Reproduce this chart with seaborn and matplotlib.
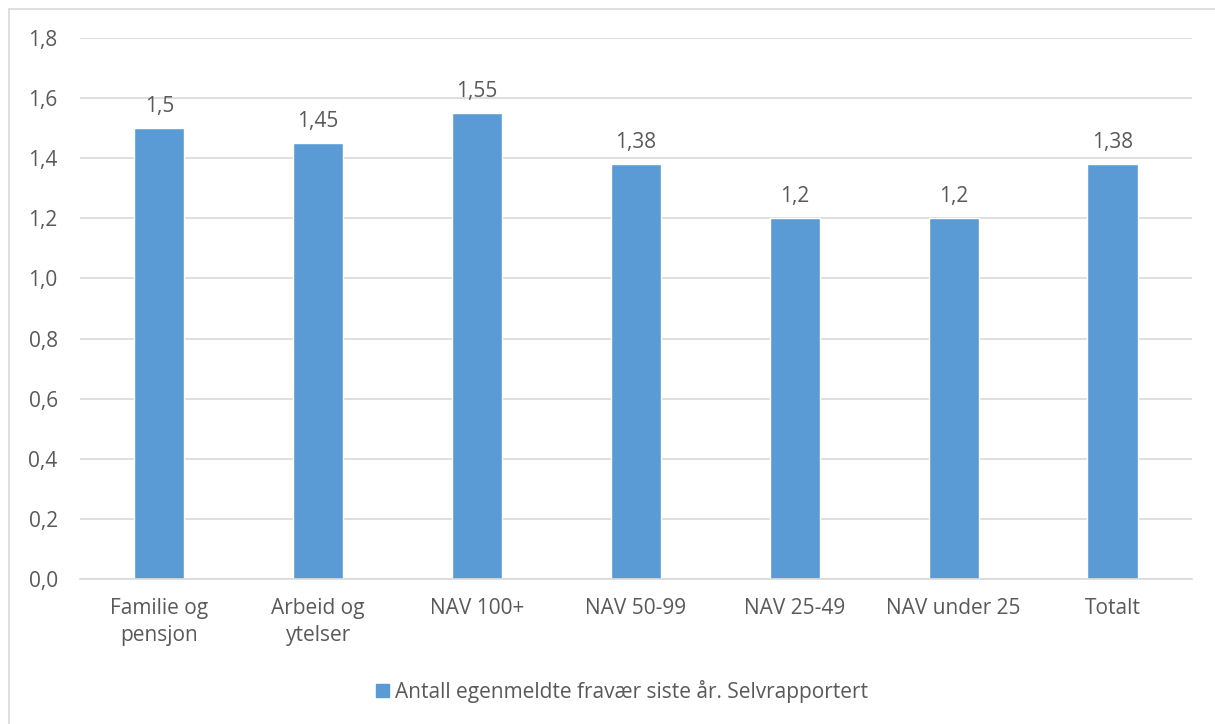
import matplotlib
matplotlib.use("Agg")
import matplotlib.pyplot as plt
import seaborn as sns
import pandas as pd
from matplotlib.patches import Rectangle

categories = ["Familie og\npensjon", "Arbeid og\nytelser", "NAV 100+", "NAV 50-99",
              "NAV 25-49", "NAV under 25", "Totalt"]
values = [1.5, 1.45, 1.55, 1.38, 1.2, 1.2, 1.38]
value_labels = ["1,5", "1,45", "1,55", "1,38", "1,2", "1,2", "1,38"]
y_ticks = [0.0, 0.2, 0.4, 0.6, 0.8, 1.0, 1.2, 1.4, 1.6, 1.8]
y_tick_labels = ["0,0", "0,2", "0,4", "0,6", "0,8", "1,0", "1,2", "1,4", "1,6", "1,8"]
series_name = "Antall egenmeldte fravær siste år. Selvrapportert"

BAR = "#5B9BD5"
TEXT = "#595959"
GRID = "#D9D9D9"
FS = 15

sns.set_theme(style="white")
plt.rcParams["font.family"] = ["Open Sans", "DejaVu Sans"]

df = pd.DataFrame({"kategori": categories, "verdi": values, "serie": series_name})

fig = plt.figure(figsize=(12.15, 7.24), dpi=100)
ax = fig.add_axes([0.0658, 0.2003, 0.9152, 0.7472])

sns.barplot(data=df, x="kategori", y="verdi", hue="serie", palette=[BAR],
            width=0.315, ax=ax, legend=False, saturation=1)

ax.set_ylim(0, 1.8)
ax.set_xlim(-0.5, len(categories) - 0.5)
ax.set_yticks(y_ticks)
ax.set_yticklabels(y_tick_labels)
ax.yaxis.grid(True, color=GRID, linewidth=1.2)
ax.set_axisbelow(True)
for s in ["top", "right", "left"]:
    ax.spines[s].set_visible(False)
ax.spines["bottom"].set_color(GRID)
ax.spines["bottom"].set_linewidth(1.2)
ax.tick_params(axis="both", length=0, labelsize=FS, colors=TEXT)
ax.tick_params(axis="x", pad=14)
ax.tick_params(axis="y", pad=16)
for t in ax.get_xticklabels():
    t.set_linespacing(1.35)
ax.set_xlabel("")
ax.set_ylabel("")

ax.bar_label(ax.containers[0], labels=value_labels, padding=8,
             fontsize=FS, color=TEXT)

# Legend below the axes
handle = Rectangle((0, 0), 1, 1, color=BAR)
fig.legend([handle], [series_name], loc="center", bbox_to_anchor=(0.512, 0.045),
           frameon=False, fontsize=FS, labelcolor=TEXT, handlelength=0.6,
           handleheight=0.6, handletextpad=0.3)

# Outer chart frame
fig.patches.append(Rectangle((9 / 1215, -0.01), 1.02, 1 - 9 / 724 + 0.01,
                             transform=fig.transFigure, fill=False,
                             edgecolor=GRID, linewidth=1.2))

fig.savefig("out.png", dpi=100)
